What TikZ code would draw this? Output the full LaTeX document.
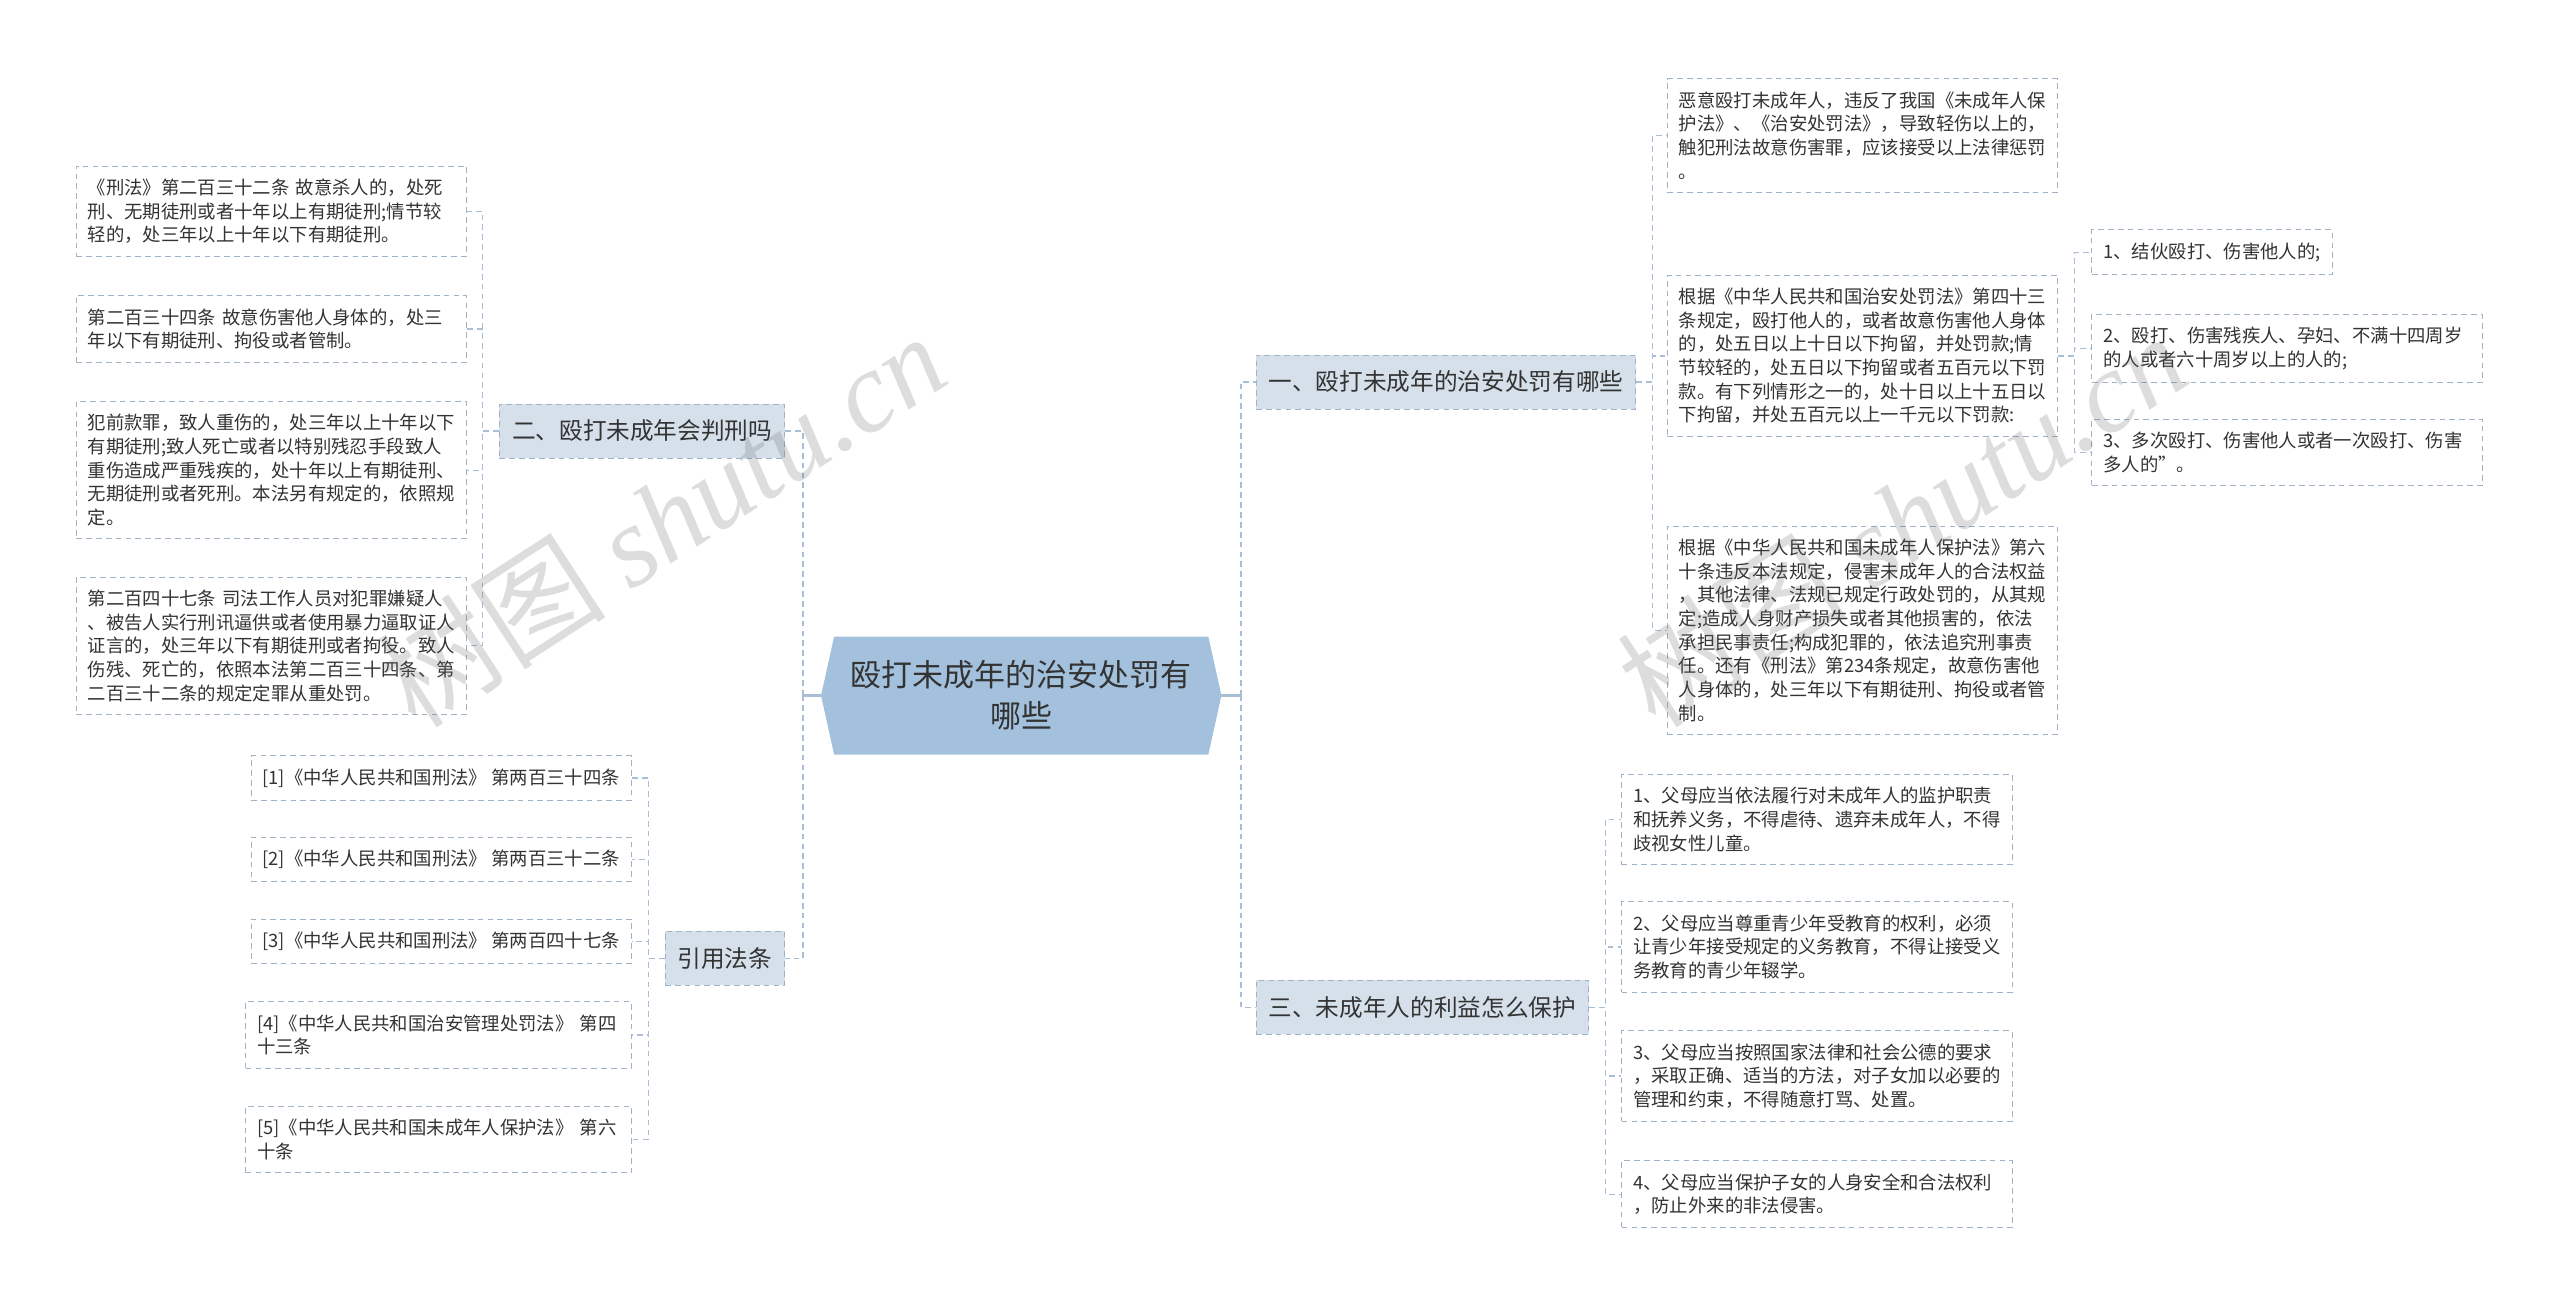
\documentclass[tikz,border=0pt]{standalone}
\usepackage{fontspec}
\setmainfont{Noto Sans CJK SC}
\newfontfamily\wmserif{Liberation Serif}
\usepackage{xcolor}
\usepackage{tikz}
\usetikzlibrary{positioning}
\usetikzlibrary{backgrounds}

\definecolor{LinkBlue}{HTML}{A8BED6}
\definecolor{BoxLine}{HTML}{9FB2C6}
\definecolor{TopicFill}{HTML}{D5E0EA}
\definecolor{RootFill}{HTML}{A3C1DD}
\definecolor{InkGray}{HTML}{333333}

\tikzset{
    note/.style={draw=BoxLine, dash pattern=on 2.5pt off 1.8pt, fill=white, text=InkGray,
        font=\fontsize{8}{10.3}\selectfont, inner xsep=5pt, inner ysep=5.6pt, align=left},
    leaf/.style={note, text width=160pt},
    topic/.style={draw=BoxLine, dash pattern=on 2.5pt off 1.8pt, fill=TopicFill, text=InkGray,
        font=\fontsize{10.3}{13}\selectfont, inner xsep=5.5pt, inner ysep=0pt, minimum height=23.5pt},
    link/.style={draw=LinkBlue, line width=0.6pt, dash pattern=on 2.5pt off 1.8pt},
    rootlink/.style={draw=LinkBlue, line width=1.2pt},
    watermark/.style={text=black!60, opacity=0.22, rotate=33, font=\fontsize{50}{50}\selectfont},
}

\begin{document}
\begin{tikzpicture}[x=0.025cm, y=-0.025cm]
        \useasboundingbox (0,0) rectangle (1568,801);

            % Root
            \node (root) at (625.5,426) [minimum width=174pt, minimum height=51pt, inner sep=0pt,
                align=center, text=InkGray, font=\fontsize{13.5}{17.8}\selectfont]
                {殴打未成年的治安处罚有\\哪些};
            \begin{pgfonlayer}{background}
            \fill [RootFill] (root.west) -- ([xshift=5.7pt]root.north west) -- ([xshift=-5.7pt]root.north east)
                -- (root.east) -- ([xshift=-5.7pt]root.south east) -- ([xshift=5.7pt]root.south west) -- cycle;
            \end{pgfonlayer}

            % Topics
            \node (one) at (769,234) [topic, anchor=west] {一、殴打未成年的治安处罚有哪些};
            \node (two) at (481,264) [topic, anchor=east] {二、殴打未成年会判刑吗};
            \node (cite) at (481,587) [topic, anchor=east] {引用法条};
            \node (three) at (769,617) [topic, anchor=west] {三、未成年人的利益怎么保护};

            % 一
            \node (r1) at (1021,83) [leaf, anchor=west] {恶意殴打未成年人，违反了我国《未成年人保\\护法》、《治安处罚法》，导致轻伤以上的，\\触犯刑法故意伤害罪，应该接受以上法律惩罚\\。};
            \node (r2) at (1021,218) [leaf, anchor=west] {根据《中华人民共和国治安处罚法》第四十三\\条规定，殴打他人的，或者故意伤害他人身体\\的，处五日以上十日以下拘留，并处罚款;情\\节较轻的，处五日以下拘留或者五百元以下罚\\款。有下列情形之一的，处十日以上十五日以\\下拘留，并处五百元以上一千元以下罚款:};
            \node (r3) at (1021,386) [leaf, anchor=west] {根据《中华人民共和国未成年人保护法》第六\\十条违反本法规定，侵害未成年人的合法权益\\，其他法律、法规已规定行政处罚的，从其规\\定;造成人身财产损失或者其他损害的，依法\\承担民事责任;构成犯罪的，依法追究刑事责\\任。还有《刑法》第234条规定，故意伤害他\\人身体的，处三年以下有期徒刑、拘役或者管\\制。};
            \node (s1) at (1281,154.5) [note, anchor=west] {1、结伙殴打、伤害他人的;};
            \node (s2) at (1281,213.5) [leaf, anchor=west] {2、殴打、伤害残疾人、孕妇、不满十四周岁\\的人或者六十周岁以上的人的;};
            \node (s3) at (1281,277) [leaf, anchor=west] {3、多次殴打、伤害他人或者一次殴打、伤害\\多人的”。};

            % 三
            \node (t1) at (993,502) [leaf, anchor=west] {1、父母应当依法履行对未成年人的监护职责\\和抚养义务，不得虐待、遗弃未成年人，不得\\歧视女性儿童。};
            \node (t2) at (993,580) [leaf, anchor=west] {2、父母应当尊重青少年受教育的权利，必须\\让青少年接受规定的义务教育，不得让接受义\\务教育的青少年辍学。};
            \node (t3) at (993,659) [leaf, anchor=west] {3、父母应当按照国家法律和社会公德的要求\\，采取正确、适当的方法，对子女加以必要的\\管理和约束，不得随意打骂、处置。};
            \node (t4) at (993,731.5) [leaf, anchor=west] {4、父母应当保护子女的人身安全和合法权利\\，防止外来的非法侵害。};

            % 二
            \node (l1) at (286,129.5) [leaf, anchor=east] {《刑法》第二百三十二条 故意杀人的，处死\\刑、无期徒刑或者十年以上有期徒刑;情节较\\轻的，处三年以上十年以下有期徒刑。};
            \node (l2) at (286,201.5) [leaf, anchor=east] {第二百三十四条 故意伤害他人身体的，处三\\年以下有期徒刑、拘役或者管制。};
            \node (l3) at (286,288) [leaf, anchor=east] {犯前款罪，致人重伤的，处三年以上十年以下\\有期徒刑;致人死亡或者以特别残忍手段致人\\重伤造成严重残疾的，处十年以上有期徒刑、\\无期徒刑或者死刑。本法另有规定的，依照规\\定。};
            \node (l4) at (286,395.5) [leaf, anchor=east] {第二百四十七条 司法工作人员对犯罪嫌疑人\\、被告人实行刑讯逼供或者使用暴力逼取证人\\证言的，处三年以下有期徒刑或者拘役。致人\\伤残、死亡的，依照本法第二百三十四条、第\\二百三十二条的规定定罪从重处罚。};

            % 引用法条
            \node (c1) at (387,476.5) [note, anchor=east] {[1]《中华人民共和国刑法》 第两百三十四条};
            \node (c2) at (387,526.5) [note, anchor=east] {[2]《中华人民共和国刑法》 第两百三十二条};
            \node (c3) at (387,576.5) [note, anchor=east] {[3]《中华人民共和国刑法》 第两百四十七条};
            \node (c4) at (387,634) [leaf, text width=158pt, anchor=east] {[4]《中华人民共和国治安管理处罚法》 第四\\十三条};
            \node (c5) at (387,698) [leaf, text width=158pt, anchor=east] {[5]《中华人民共和国未成年人保护法》 第六\\十条};

            % Connectors
            \draw [rootlink] (root.west) -- ++(-11,0) coordinate (lt);
            \draw [rootlink] (root.east) -- ++(12,0) coordinate (rt);
            \foreach \k in {two, cite}
                \draw [link] (lt) |- (\k.east);
            \foreach \k in {one, three}
                \draw [link] (rt) |- (\k.west);
            \foreach \k in {r1, r2, r3}
                \draw [link] (one.east) -- ++(10,0) |- (\k.west);
            \foreach \k in {s1, s2, s3}
                \draw [link] (r2.east) -- ++(10,0) |- (\k.west);
            \foreach \k in {t1, t2, t3, t4}
                \draw [link] (three.east) -- ++(10,0) |- (\k.west);
            \foreach \k in {l1, l2, l3, l4}
                \draw [link] (two.west) -- ++(-10,0) |- (\k.east);
            \foreach \k in {c1, c2, c3, c4, c5}
                \draw [link] (cite.west) -- ++(-10,0) |- (\k.east);

            % Watermarks
            \node (wmleft) at (405,318) [watermark] {树图 {\wmserif\itshape shutu.cn}};
            \node (wmright) at (1165,318) [watermark] {树图 {\wmserif\itshape shutu.cn}};
        \end{tikzpicture}
\end{document}
